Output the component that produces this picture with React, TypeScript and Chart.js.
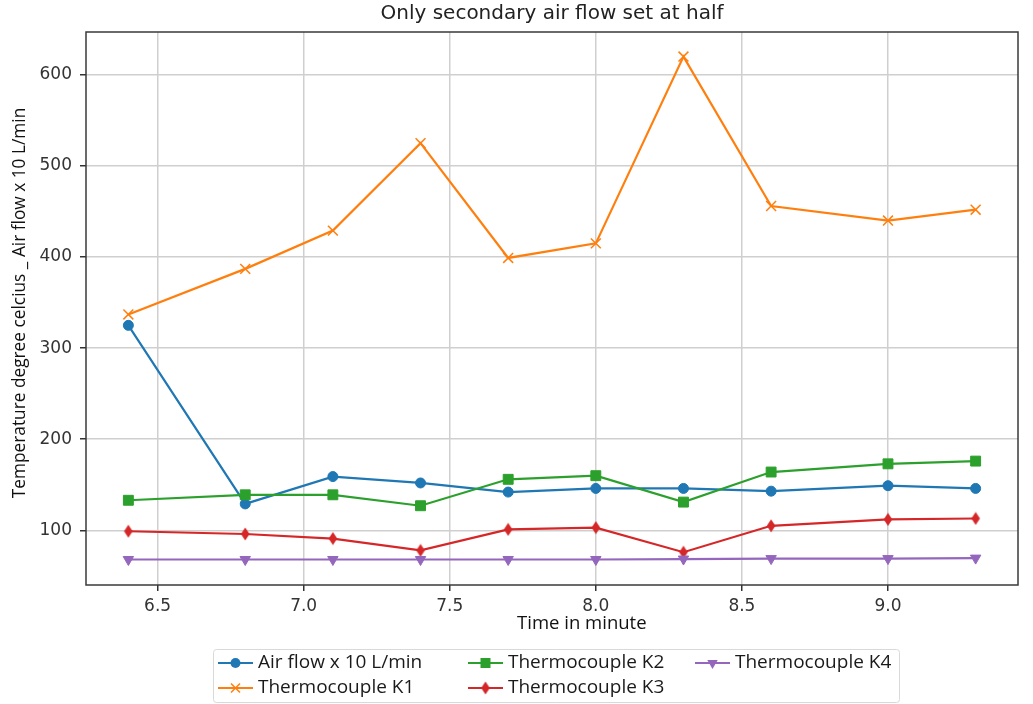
import React, { useEffect, useRef } from 'react';
import { Chart, registerables } from 'chart.js';

Chart.register(...registerables);

const chartTitle = 'Only secondary air flow set at half';
const xAxisTitle = 'Time in minute';
const yAxisTitle = 'Temperature degree celcius _ Air flow x 10 L/min';

const timeMinutes = [6.4, 6.8, 7.1, 7.4, 7.7, 8.0, 8.3, 8.6, 9.0, 9.3];
const airFlow = [325, 129, 159, 152, 142, 146, 146, 143, 149, 146];
const thermoK1 = [337, 387, 429, 525, 399, 415, 620, 456, 440, 452];
const thermoK2 = [133, 139, 139, 127, 156, 160, 131, 164, 173, 176];
const thermoK3 = [99, 96, 91, 78, 101, 103, 76, 105, 112, 113];
const thermoK4 = [68, 68, 68, 68, 68, 68, 68.5, 69, 69, 69.5];

const seriesLabels = [
  'Air flow x 10 L/min',
  'Thermocouple K1',
  'Thermocouple K2',
  'Thermocouple K3',
  'Thermocouple K4',
];
const seriesColors = ['#1f77b4', '#ff7f0e', '#2ca02c', '#d62728', '#9467bd'];

const xTicks = [6.5, 7.0, 7.5, 8.0, 8.5, 9.0];
const yTicks = [100, 200, 300, 400, 500, 600];

function makeThinDiamond(color: string) {
  const c = document.createElement('canvas');
  c.width = 10;
  c.height = 14;
  const g = c.getContext('2d')!;
  g.fillStyle = color;
  g.beginPath();
  g.moveTo(5, 0.5);
  g.lineTo(9.3, 7);
  g.lineTo(5, 13.5);
  g.lineTo(0.7, 7);
  g.closePath();
  g.fill();
  return c;
}

function drawLegendMarker(ctx: CanvasRenderingContext2D, idx: number, x: number, y: number, diamond: HTMLCanvasElement) {
  const color = seriesColors[idx];
  ctx.save();
  ctx.fillStyle = color;
  ctx.strokeStyle = color;
  ctx.lineWidth = 1.5;
  if (idx === 0) {
    ctx.beginPath();
    ctx.arc(x, y, 5, 0, Math.PI * 2);
    ctx.fill();
  } else if (idx === 1) {
    ctx.beginPath();
    ctx.moveTo(x - 4.5, y - 4.5);
    ctx.lineTo(x + 4.5, y + 4.5);
    ctx.moveTo(x - 4.5, y + 4.5);
    ctx.lineTo(x + 4.5, y - 4.5);
    ctx.stroke();
  } else if (idx === 2) {
    ctx.fillRect(x - 5, y - 5, 10, 10);
  } else if (idx === 3) {
    ctx.drawImage(diamond, x - diamond.width / 2, y - diamond.height / 2);
  } else {
    ctx.beginPath();
    ctx.moveTo(x - 5.2, y - 3);
    ctx.lineTo(x + 5.2, y - 3);
    ctx.lineTo(x, y + 6);
    ctx.closePath();
    ctx.fill();
  }
  ctx.restore();
}

export default function App() {
  const canvasRef = useRef<HTMLCanvasElement | null>(null);

  useEffect(() => {
    document.body.style.margin = '0';
    const canvas = canvasRef.current;
    if (!canvas) return;
    const diamond = makeThinDiamond(seriesColors[3]);

    const allSeries = [airFlow, thermoK1, thermoK2, thermoK3, thermoK4];
    const pointStyles: any[] = ['circle', 'crossRot', 'rect', diamond, 'triangle'];
    const radii = [5, 7, 7, 7, 6];
    const rotations = [0, 0, 0, 0, 180];

    const datasets = allSeries.map((vals, i) => ({
      label: seriesLabels[i],
      data: timeMinutes.map((t, j) => ({ x: t, y: vals[j] })),
      borderColor: seriesColors[i],
      backgroundColor: seriesColors[i],
      borderWidth: 2.2,
      pointStyle: pointStyles[i],
      pointRadius: radii[i],
      pointRotation: rotations[i],
      pointBorderWidth: i === 1 ? 1.5 : 1,
      pointBackgroundColor: seriesColors[i],
      pointBorderColor: seriesColors[i],
      tension: 0,
      fill: false,
      order: 5 - i,
    }));

    const decorPlugin = {
      id: 'decor',
      afterDraw(chart: any) {
        const { ctx, chartArea } = chart;
        const { left, right, top, bottom } = chartArea;
        ctx.save();
        // frame
        ctx.strokeStyle = '#3a3a3a';
        ctx.lineWidth = 1.5;
        ctx.strokeRect(left, top, right - left, bottom - top);
        // title
        ctx.fillStyle = '#222';
        ctx.font = '20px "DejaVu Sans"';
        ctx.textAlign = 'center';
        ctx.textBaseline = 'middle';
        ctx.fillText(chartTitle, (left + right) / 2, 14);
        // x axis title
        ctx.fillStyle = '#111';
        ctx.font = '18.5px "Open Sans"';
        ctx.fillText(xAxisTitle, left + (right - left) * 0.532, bottom + 39);
        // y axis title
        ctx.save();
        ctx.translate(20, 303);
        ctx.rotate(-Math.PI / 2);
        ctx.font = '17.3px "Open Sans"';
        ctx.fillStyle = '#111';
        ctx.fillText(yAxisTitle, 0, 0);
        ctx.restore();
        // legend box
        const bx = 213.5, by = 649.5, bw = 686, bh = 53;
        ctx.fillStyle = '#ffffff';
        ctx.strokeStyle = '#d9d9d9';
        ctx.lineWidth = 1;
        ctx.beginPath();
        (ctx as any).roundRect ? (ctx as any).roundRect(bx, by, bw, bh, 3) : ctx.rect(bx, by, bw, bh);
        ctx.fill();
        ctx.stroke();
        // legend entries (column-major, 3 columns)
        const colX = [218, 468, 695];
        const rowY = [663, 688];
        ctx.font = '19px "Open Sans"';
        ctx.textAlign = 'left';
        ctx.textBaseline = 'middle';
        seriesLabels.forEach((label, i) => {
          const col = Math.floor(i / 2);
          const row = i % 2;
          const x0 = colX[col];
          const y0 = rowY[row];
          ctx.strokeStyle = seriesColors[i];
          ctx.lineWidth = 2.2;
          ctx.beginPath();
          ctx.moveTo(x0, y0);
          ctx.lineTo(x0 + 35, y0);
          ctx.stroke();
          drawLegendMarker(ctx, i, x0 + 17.5, y0, diamond);
          ctx.fillStyle = '#1a1a1a';
          ctx.fillText(label, x0 + 40, y0);
        });
        ctx.restore();
      },
    };

    const chart = new Chart(canvas, {
      type: 'line',
      data: { datasets },
      plugins: [decorPlugin],
      options: {
        animation: false,
        responsive: false,
        devicePixelRatio: 1,
        events: [],
        layout: { padding: { left: 0, right: 15, top: 32, bottom: 59 } },
        plugins: {
          legend: { display: false },
          tooltip: { enabled: false },
          title: { display: false },
        },
        scales: {
          x: {
            type: 'linear',
            min: 6.255,
            max: 9.445,
            afterBuildTicks: (scale: any) => {
              scale.ticks = xTicks.map((v) => ({ value: v }));
            },
            afterFit: (scale: any) => {
              scale.height = 60;
            },
            ticks: {
              callback: (v: any) => Number(v).toFixed(1),
              color: '#333',
              font: { family: 'DejaVu Sans', size: 17 },
              padding: 5,
              maxRotation: 0,
              autoSkip: false,
            },
            grid: {
              color: '#cfcfcf',
              lineWidth: 1.5,
              tickLength: 6,
              tickColor: '#333',
              tickWidth: 1.5,
            },
            border: { display: false },
          },
          y: {
            type: 'linear',
            min: 40,
            max: 647,
            afterBuildTicks: (scale: any) => {
              scale.ticks = yTicks.map((v) => ({ value: v }));
            },
            afterFit: (scale: any) => {
              scale.width = 86;
            },
            ticks: {
              callback: (v: any) => String(v),
              color: '#333',
              font: { family: 'DejaVu Sans', size: 17 },
              padding: 8,
              autoSkip: false,
            },
            grid: {
              color: '#cfcfcf',
              lineWidth: 1.5,
              tickLength: 6,
              tickColor: '#333',
              tickWidth: 1.5,
            },
            border: { display: false },
          },
        },
      } as any,
    });

    return () => {
      chart.destroy();
    };
  }, []);

  return (
    <div style={{ width: 1033, height: 704, background: '#fff' }}>
      <canvas ref={canvasRef} width={1033} height={704} style={{ display: 'block' }} />
    </div>
  );
}
